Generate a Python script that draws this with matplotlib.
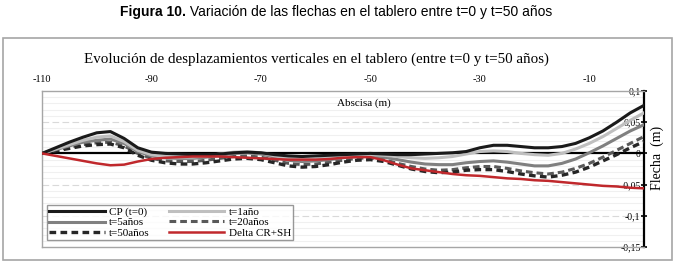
import matplotlib
matplotlib.use("Agg")
import matplotlib.pyplot as plt
from matplotlib.patches import Rectangle
from matplotlib.ticker import MultipleLocator, FixedLocator
import numpy as np

# Abscisa (m)
x = [-110, -107.5, -105, -102.5, -100, -97.5, -95, -92.5, -90, -87.5, -85, -82.5,
     -80, -77.5, -75, -72.5, -70, -67.5, -65, -62.5, -60, -57.5, -55, -52.5,
     -50, -47.5, -45, -42.5, -40, -37.5, -35, -32.5, -30, -27.5, -25, -22.5,
     -20, -17.5, -15, -12.5, -10, -7.5, -5, -2.5, 0]

# Flecha (m)
cp_t0 = [0, 0.009, 0.018, 0.026, 0.033, 0.035, 0.024, 0.009, 0.002, 0.0, -0.001, -0.002,
         -0.002, -0.001, 0.001, 0.002, 0.001, -0.002, -0.004, -0.005, -0.004, -0.003, -0.002, -0.001,
         0.0, -0.001, -0.002, -0.002, -0.001, 0.0, 0.001, 0.003, 0.009, 0.013, 0.013, 0.011,
         0.009, 0.009, 0.011, 0.016, 0.025, 0.036, 0.050, 0.065, 0.077]
t1 = [0, 0.007, 0.014, 0.021, 0.026, 0.028, 0.019, 0.005, -0.002, -0.005, -0.006, -0.006,
      -0.004, -0.001, 0.002, 0.003, 0.001, -0.004, -0.008, -0.010, -0.009, -0.007, -0.005, -0.003,
      -0.002, -0.003, -0.005, -0.007, -0.008, -0.007, -0.005, -0.001, 0.003, 0.004, 0.003, 0.000,
      -0.002, -0.003, 0.000, 0.007, 0.016, 0.027, 0.040, 0.053, 0.065]
t5 = [0, 0.006, 0.012, 0.018, 0.021, 0.023, 0.016, 0.003, -0.004, -0.007, -0.008, -0.008,
      -0.006, -0.003, 0.0, 0.001, -0.001, -0.006, -0.011, -0.013, -0.012, -0.010, -0.007, -0.005,
      -0.004, -0.006, -0.010, -0.014, -0.017, -0.018, -0.018, -0.015, -0.013, -0.012, -0.014, -0.017,
      -0.020, -0.020, -0.016, -0.009, 0.001, 0.012, 0.024, 0.036, 0.046]
t20 = [0, 0.005, 0.010, 0.014, 0.017, 0.018, 0.012, 0.000, -0.008, -0.012, -0.013, -0.013,
       -0.011, -0.008, -0.005, -0.004, -0.006, -0.011, -0.016, -0.018, -0.017, -0.014, -0.011, -0.008,
       -0.007, -0.010, -0.016, -0.021, -0.025, -0.027, -0.026, -0.023, -0.021, -0.021, -0.024, -0.028,
       -0.031, -0.033, -0.030, -0.024, -0.016, -0.006, 0.005, 0.016, 0.027]
t50 = [0, 0.004, 0.008, 0.012, 0.014, 0.015, 0.009, -0.003, -0.011, -0.015, -0.017, -0.017,
       -0.015, -0.012, -0.009, -0.008, -0.010, -0.015, -0.020, -0.022, -0.021, -0.018, -0.014, -0.011,
       -0.010, -0.013, -0.019, -0.025, -0.029, -0.031, -0.030, -0.027, -0.026, -0.026, -0.029, -0.033,
       -0.036, -0.038, -0.035, -0.030, -0.022, -0.012, -0.002, 0.009, 0.019]
delta = [0, -0.004, -0.008, -0.012, -0.016, -0.019, -0.018, -0.013, -0.009, -0.007, -0.006, -0.005,
         -0.005, -0.005, -0.006, -0.007, -0.008, -0.009, -0.010, -0.010, -0.010, -0.009, -0.007, -0.006,
         -0.006, -0.011, -0.018, -0.024, -0.027, -0.030, -0.033, -0.035, -0.036, -0.038, -0.040, -0.041,
         -0.043, -0.044, -0.046, -0.048, -0.050, -0.052, -0.053, -0.055, -0.056]

xticks = [-110, -90, -70, -50, -30, -10]
yticks = [-0.15, -0.1, -0.05, 0, 0.05, 0.1]
ylabels = ['-0,15', '-0,1', '-0,05', '0', '0,05', '0,1']

serif = ['Liberation Serif', 'DejaVu Serif']
plt.rcParams['font.family'] = serif

fig = plt.figure(figsize=(6.77, 2.67), dpi=100)
ax = fig.add_axes([42 / 677, 20 / 267, 602 / 677, 156 / 267])

# marco del grafico
fig.add_artist(Rectangle((3 / 677, 7 / 267), 669 / 677, 222 / 267, transform=fig.transFigure,
                         fill=False, edgecolor='#a6a6a6', lw=1.2))

ax.set_xlim(-110, 0)
ax.set_ylim(-0.15, 0.1)

# rejilla
ax.yaxis.set_minor_locator(MultipleLocator(0.01))
ax.grid(which='minor', axis='y', color='#f0f0f0', lw=0.8)
for yv in [-0.1, -0.05, 0.05]:
    ax.axhline(yv, color='#d9d9d9', lw=0.8, ls=(0, (6, 3)), zorder=0.5)
ax.xaxis.set_minor_locator(FixedLocator([-90, -70, -50, -30, -10]))
ax.grid(which='minor', axis='x', color='#c4c4c4', lw=1.0)
ax.axhline(0, color='black', lw=1.6, zorder=2)

l_cp, = ax.plot(x, cp_t0, color='#1a1a1a', lw=2.2, zorder=6)
l_t1, = ax.plot(x, t1, color='#bfbfbf', lw=2.2, zorder=5)
l_t5, = ax.plot(x, t5, color='#808080', lw=2.2, zorder=4)
l_t20, = ax.plot(x, t20, color='#595959', lw=2.2, ls=(0, (2.2, 1.3)), zorder=3)
l_t50, = ax.plot(x, t50, color='#262626', lw=2.4, ls=(0, (2.0, 1.3)), zorder=3)
l_d, = ax.plot(x, delta, color='#c0282c', lw=1.8, zorder=7)

# ejes
for s in ['top', 'left', 'bottom']:
    ax.spines[s].set_color('#a6a6a6')
    ax.spines[s].set_linewidth(1.0)
ax.spines['right'].set_color('black')
ax.spines['right'].set_linewidth(1.6)

ax.xaxis.tick_top()
ax.set_xticks(xticks)
ax.set_xticklabels([str(v) for v in xticks])
ax.tick_params(axis='x', which='both', length=0, pad=5, labelsize=7.5)

ax.yaxis.tick_right()
ax.set_yticks(yticks)
ax.set_yticklabels(ylabels)
ax.tick_params(axis='y', which='major', direction='inout', length=5, width=1.2,
               pad=-5, labelsize=7)
ax.tick_params(axis='y', which='minor', length=0)
plt.setp(ax.get_yticklabels(), ha='right')

ax.text(0.535, 0.955, 'Abscisa (m)', transform=ax.transAxes, ha='center', va='top', fontsize=8)
fig.text(657 / 677, 0.41, 'Flecha  (m)', rotation=90, ha='center', va='center', fontsize=10)

fig.text(316 / 677, 1 - 59 / 267,
         'Evolución de desplazamientos verticales en el tablero (entre t=0 y t=50 años)',
         ha='center', va='center', fontsize=10.8)

sans = ['Liberation Sans Narrow', 'Liberation Sans', 'DejaVu Sans']
tb = fig.text(120 / 677, 1 - 12 / 267, 'Figura 10.', family=sans, fontweight='bold',
              ha='left', va='center', fontsize=10)
ax.annotate(' Variación de las flechas en el tablero entre t=0 y t=50 años', xy=(1, 0.5),
            xycoords=tb, ha='left', va='center', family=sans, fontsize=10,
            annotation_clip=False)

leg = ax.legend([l_cp, l_t5, l_t50, l_t1, l_t20, l_d],
                ['CP (t=0)', 't=5años', 't=50años', 't=1año', 't=20años', 'Delta CR+SH'],
                ncol=2, loc='lower left', bbox_to_anchor=(5 / 602, 7 / 156, 246 / 602, 37 / 156),
                mode='expand', fontsize=8, frameon=True, fancybox=False, borderpad=0.2,
                labelspacing=0.05, handlelength=5, handletextpad=0.4, columnspacing=1.0,
                borderaxespad=0)
leg.get_frame().set_edgecolor('#7f7f7f')
leg.get_frame().set_linewidth(1.0)
leg.set_zorder(10)

fig.savefig('out.png', dpi=100)
